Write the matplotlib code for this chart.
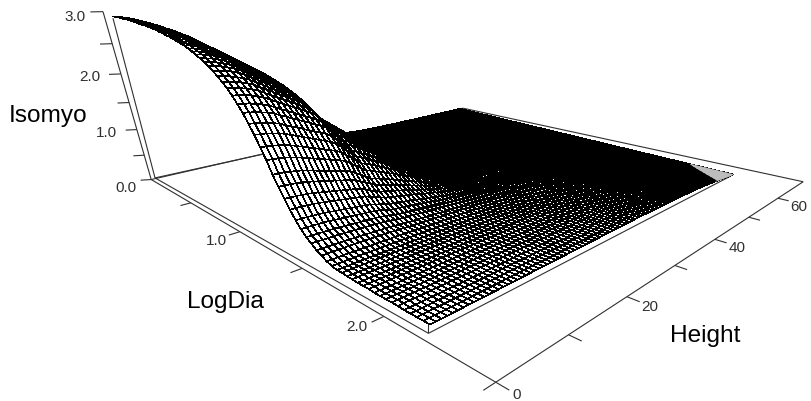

import numpy as np, matplotlib
matplotlib.use('Agg')
import matplotlib.pyplot as plt
from mpl_toolkits.mplot3d.art3d import Line3DCollection

# Values
logdia_step = 0.0313
height_start = 1.0
height_step = 0.7556
height_shrink = 0.02
z_by_logdia = [2.92,2.92,2.92,2.92,2.91,2.91,2.91,2.90,2.90,2.89,2.88,2.87,2.87,2.86,2.85,2.84,2.83,2.81,2.80,2.78,2.77,2.75,2.73,2.71,2.69,2.66,2.63,2.60,2.56,2.52,2.48,2.43,
 2.36,2.29,2.22,2.13,2.02,1.91,1.78,1.64,1.48,1.31,1.13,.97,.81,.67,.54,.43,.33,.26,.19,.14,.09,.06,.04,.04,.03,.03,.02,.02,.02,.01,.01,.01,.01,.01,0,0,0,0,0]
share_by_height = [1.00,.995,.99,.98,.97,.955,.935,.915,.895,.875,.855,.835,.815,.795,.77,.725,.68,.635,.59,.57,.545,.52,.495,.47,.445,.42,.39,.365,.34,.315,.285,.26,.235,.21,.19,.165,.145,.125,.105,.09,.075,.06,.05,.04,.035,.03,.025,.02,.018,
 .016,.014,.012,.01,.009,.008,.007,.006,.005,.005,.004,.004,.003,.003,.003,.002,.002,.002,.002,.002]+[.001]*22
floor_by_logdia = [0]*32+[.01,.02,.02,.03,.04,.05,.05,.06,.07,.08,.08,.09,.10,.11,.11,.12,.13,.14,.14,.15,.15]+[.15]*18
floor_share_by_height = [1]*51+[.99,.98,.97,.96,.95,.94,.93,.92,.91,.90,.89,.88,.87,.86,.85,.84,.82,.80,.78,.76,.74,.72,.70,.67,.64,.61,.58,.54,.50,.46,.42,.37,.32,.27,.22,.17,.12,.08,.04,.01]
plate_logdia = [-0.013,2.181,2.192,0.047]
plate_height = [0.74,1.034,65.089,68.602]
logdia_ticks = [0.5,1.0,1.5,2.0,2.5]
height_ticks = [0,10,20,30,40,50,60]
iso_ticks = [0,0.5,1,1.5,2,2.5,3]
tick_labels = [(75,17,'3.0'),(90,77,'2.0'),(106,133,'1.0'),(126,188,'0.0'),(216,241,'1.0'),(357,327,'2.0'),(517,395,'0'),(650,307,'20'),(737,248,'40'),(799,207,'60')]
axis_labels = [(48,116,'Isomyo'),(225,302,'LogDia'),(705,336,'Height')]

camera = np.array([[ 42.60836202 ,   7.412466002, -21.301628056, 151.203557257],
                   [  7.660326285,  -0.327885759, -56.5547631  , 179.533431114],
                   [ -0.192067734,   0.006386455,  -0.050834344,   1.         ]])

f=np.array(z_by_logdia);g=np.array(share_by_height);fl=np.array(floor_by_logdia);gl=np.array(floor_share_by_height)
L=np.arange(len(f))*logdia_step; H=height_start+np.arange(len(g))*height_step
LL,HH=np.meshgrid(L,H,indexing='ij')
HH=HH*(1-height_shrink*LL)
Z=np.outer(f,g)+np.outer(fl,gl)

fig=plt.figure(figsize=(8.11,4.01),dpi=100)
ax=fig.add_axes([0,0,1,1],projection='3d')
P=np.vstack([camera[0],camera[1],[0,0,0,-1],camera[2]])
ax.get_proj=lambda:P
ax.apply_aspect=lambda position=None:None
ax.set_axis_off()
ax.computed_zorder=False
AC='#303030'
segs=[]
def path(xs,ys,zs):
    p=list(zip(xs,ys,zs))
    segs.extend([[p[i],p[i+1]] for i in range(len(p)-1)])
path([0,2.5,2.5,0,0],[0,0,70,70,0],[0]*5)
path([0,0],[0,0],[0,3])
path(plate_logdia+plate_logdia[:1],plate_height+plate_height[:1],[0]*5)
path([plate_logdia[0],0.03],[plate_height[0],plate_height[0]],[0,2.9])
path([plate_logdia[1]]*2,[plate_height[1]]*2,[0,0.17])
for v in logdia_ticks: path([v,v],[0,-1.5],[0,0])
for v in height_ticks: path([2.5,2.55],[v,v],[0,0])
for v in iso_ticks: path([0,-0.03],[0,-1.3],[v,v])
ax.add_collection3d(Line3DCollection(segs,colors=AC,linewidths=0.8,zorder=1))
ax.plot_surface(LL,HH,Z,rstride=1,cstride=1,color='white',edgecolor='black',linewidth=0.42,shade=False,zorder=3,antialiased=False)
I,J=np.meshgrid(np.arange(len(f)),np.arange(len(g)),indexing='ij')
Zg=np.where((I-62)/8+(J-81)/9>=1,Z,np.nan)
ax.plot_surface(LL[62:,81:],HH[62:,81:],Zg[62:,81:],rstride=1,cstride=1,color='#c0c0c0',edgecolor='#c0c0c0',linewidth=0.5,shade=False,zorder=4)
ax.viewLim.intervalx=(0,811); ax.viewLim.intervaly=(401,0)
def T(x,y,s,size,c):
    fig.text(x/811,1-y/401,s,fontsize=size,color=c,ha='center',va='center',family='Liberation Sans')
for (x,y,s) in tick_labels: T(x,y,s,11,'#303030')
for (x,y,s) in axis_labels: T(x,y,s,17.6,'black')
fig.savefig('out.png',dpi=100)
